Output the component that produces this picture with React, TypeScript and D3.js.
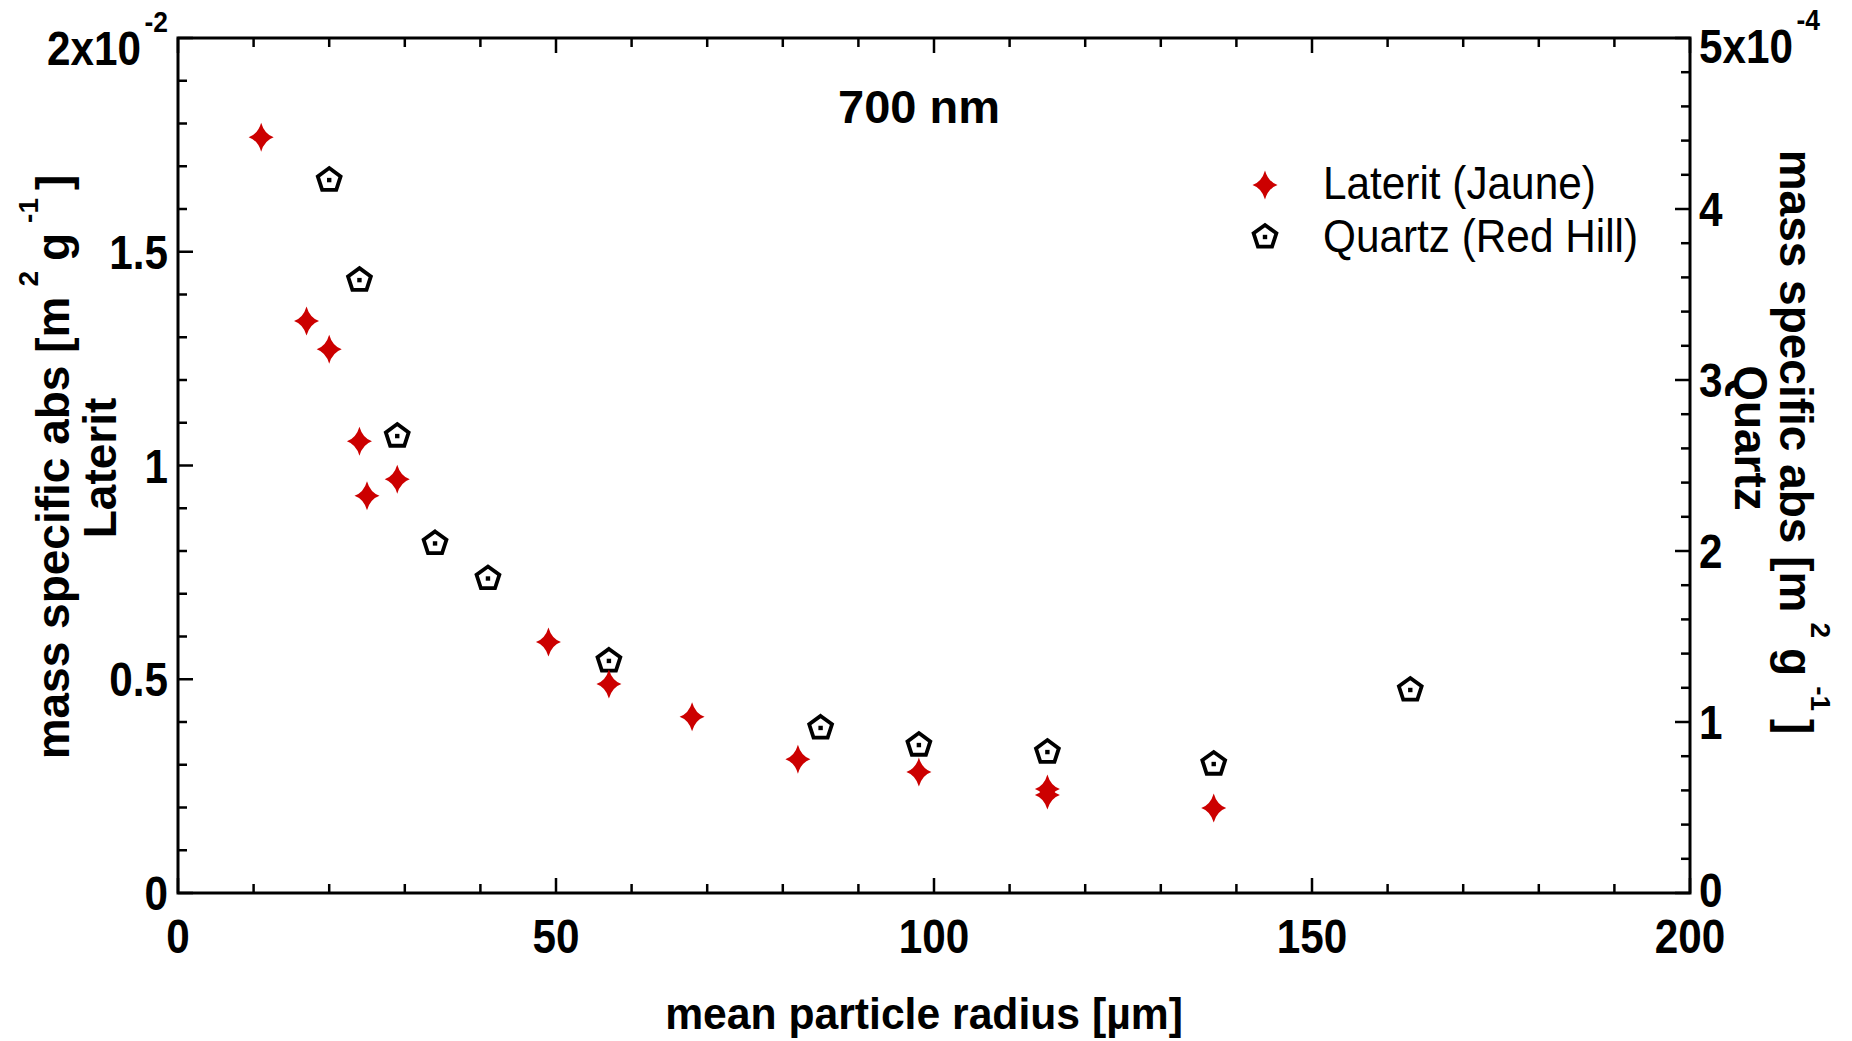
import React from "react";
import * as d3 from "d3";

// Mass specific absorption at 700 nm vs mean particle radius
const lateritRadius = [11, 17, 20, 24, 25, 29, 49, 57, 68, 82, 98, 115, 115, 137];
// in units of 10^-2 m^2 g^-1 (left axis)
const lateritAbs = [1.768, 1.338, 1.272, 1.057, 0.929, 0.968, 0.587, 0.489, 0.412, 0.313, 0.283, 0.243, 0.229, 0.199];

const quartzRadius = [20, 24, 29, 34, 41, 57, 85, 98, 115, 137, 163];
// in units of 10^-4 m^2 g^-1 (right axis)
const quartzAbs = [4.175, 3.59, 2.678, 2.05, 1.845, 1.363, 0.971, 0.871, 0.83, 0.76, 1.193];

const xTickValues = [0, 50, 100, 150, 200];
const xTickLabels = ["0", "50", "100", "150", "200"];
const leftTickValues = [0, 0.5, 1, 1.5, 2];
const leftTickLabels = ["0", "0.5", "1", "1.5", "2x10"];
const leftExponent = "-2";
const rightTickValues = [0, 1, 2, 3, 4, 5];
const rightTickLabels = ["0", "1", "2", "3", "4", "5x10"];
const rightExponent = "-4";
const seriesNames = ["Laterit (Jaune)", "Quartz (Red Hill)"];
const chartTitle = "700 nm";

const FONT = "'Liberation Sans', Arial, Helvetica, sans-serif";
const RED = "#cc0000";

const W = 1852;
const H = 1041;
const M = { left: 178, right: 1690, top: 38, bottom: 893 };

const x = d3.scaleLinear().domain([0, 200]).range([M.left, M.right]);
const yL = d3.scaleLinear().domain([0, 2]).range([M.bottom, M.top]);
const yR = d3.scaleLinear().domain([0, 5]).range([M.bottom, M.top]);

const xMinor = d3.range(0, 201, 10).filter((v) => v % 50 !== 0);
const leftMinor = d3.range(1, 20).map((v) => v / 10).filter((v) => Math.round(v * 10) % 5 !== 0);
const rightMinor = d3.range(1, 25).map((v) => v / 5).filter((v) => Math.round(v * 5) % 5 !== 0);

function starPath(): string {
  const p = d3.path();
  const rx = 12.5;
  const ry = 14.5;
  const c = 3.2;
  p.moveTo(0, -ry);
  p.quadraticCurveTo(c, -c, rx, 0);
  p.quadraticCurveTo(c, c, 0, ry);
  p.quadraticCurveTo(-c, c, -rx, 0);
  p.quadraticCurveTo(-c, -c, 0, -ry);
  p.closePath();
  return p.toString();
}

function pentagonPath(r: number): string {
  const pts = d3.range(5).map((i) => {
    const a = ((-90 + 72 * i) * Math.PI) / 180;
    return [r * Math.cos(a), r * Math.sin(a)] as [number, number];
  });
  return (d3.line()(pts) || "") + "Z";
}

const STAR = starPath();
const PENT = pentagonPath(12);

function Star({ cx, cy }: { cx: number; cy: number }) {
  return <path d={STAR} transform={`translate(${cx},${cy})`} fill={RED} />;
}

function Pentagon({ cx, cy }: { cx: number; cy: number }) {
  return (
    <g transform={`translate(${cx},${cy + 1})`}>
      <path d={PENT} fill="none" stroke="#000" strokeWidth={3.8} strokeLinejoin="miter" />
      <rect x={-2.2} y={-2.2} width={4.4} height={4.4} fill="#000" />
    </g>
  );
}

const tickStyle = { stroke: "#000", strokeWidth: 2.5 };
const MAJ = 15;
const MIN = 9;
const TICK_FS = 48;
const SX = 0.88;

export default function App() {
  return (
    <svg
      width={W}
      height={H}
      viewBox={`0 0 ${W} ${H}`}
      style={{ position: "absolute", left: 0, top: 0, display: "block", background: "#fff" }}
      fontFamily={FONT}
    >
      <rect x={0} y={0} width={W} height={H} fill="#fff" />

      {/* bottom and top x ticks */}
      {xTickValues.map((v) => (
        <g key={`xM${v}`}>
          <line x1={x(v)} x2={x(v)} y1={M.bottom} y2={M.bottom - MAJ} {...tickStyle} />
          <line x1={x(v)} x2={x(v)} y1={M.top} y2={M.top + MAJ} {...tickStyle} />
        </g>
      ))}
      {xMinor.map((v) => (
        <g key={`xm${v}`}>
          <line x1={x(v)} x2={x(v)} y1={M.bottom} y2={M.bottom - MIN} {...tickStyle} />
          <line x1={x(v)} x2={x(v)} y1={M.top} y2={M.top + MIN} {...tickStyle} />
        </g>
      ))}

      {/* left ticks */}
      {leftTickValues.map((v) => (
        <line key={`lM${v}`} x1={M.left} x2={M.left + MAJ} y1={yL(v)} y2={yL(v)} {...tickStyle} />
      ))}
      {leftMinor.map((v) => (
        <line key={`lm${v}`} x1={M.left} x2={M.left + MIN} y1={yL(v)} y2={yL(v)} {...tickStyle} />
      ))}

      {/* right ticks */}
      {rightTickValues.map((v) => (
        <line key={`rM${v}`} x1={M.right} x2={M.right - MAJ} y1={yR(v)} y2={yR(v)} {...tickStyle} />
      ))}
      {rightMinor.map((v) => (
        <line key={`rm${v}`} x1={M.right} x2={M.right - MIN} y1={yR(v)} y2={yR(v)} {...tickStyle} />
      ))}

      {/* frame */}
      <rect
        x={M.left}
        y={M.top}
        width={M.right - M.left}
        height={M.bottom - M.top}
        fill="none"
        stroke="#000"
        strokeWidth={3}
      />

      {/* x tick labels */}
      {xTickValues.map((v, i) => (
        <g key={`xl${v}`} transform={`translate(${x(v)},${M.bottom + 60})`}>
          <text transform={`scale(${SX},1)`} textAnchor="middle" fontSize={TICK_FS} fontWeight={700}>
            {xTickLabels[i]}
          </text>
        </g>
      ))}

      {/* left tick labels */}
      {leftTickValues.map((v, i) => {
        const last = i === leftTickValues.length - 1;
        const ty = last ? 65 : yL(v) + 17;
        return (
          <g key={`ll${v}`} transform={`translate(${M.left - 10},${ty})`}>
            <text transform={`scale(${SX},1)`} textAnchor="end" fontSize={TICK_FS} fontWeight={700}>
              {leftTickLabels[i]}
              {last && (
                <tspan dx={4} dy={-33} fontSize={30}>
                  {leftExponent}
                </tspan>
              )}
            </text>
          </g>
        );
      })}

      {/* right tick labels */}
      {rightTickValues.map((v, i) => {
        const last = i === rightTickValues.length - 1;
        const ty = last ? 63 : i === 0 ? yR(v) + 14 : yR(v) + 17;
        return (
          <g key={`rl${v}`} transform={`translate(${M.right + 9},${ty})`}>
            <text transform={`scale(${SX},1)`} textAnchor="start" fontSize={TICK_FS} fontWeight={700}>
              {rightTickLabels[i]}
              {last && (
                <tspan dx={4} dy={-33} fontSize={30}>
                  {rightExponent}
                </tspan>
              )}
            </text>
          </g>
        );
      })}

      {/* axis titles */}
      <g transform={`translate(${(M.left + M.right) / 2 - 10},1029)`}>
        <text transform="scale(0.97,1)" textAnchor="middle" fontSize={44} fontWeight={700}>
          mean particle radius [µm]
        </text>
      </g>

      <text transform="translate(69,467) rotate(-90)" textAnchor="middle" fontSize={46} fontWeight={700}>
        mass specific abs [m
        <tspan dx={10} dy={-31} fontSize={28}>2</tspan>
        <tspan dx={10} dy={31}>g</tspan>
        <tspan dx={10} dy={-31} fontSize={28}>-1</tspan>
        <tspan dx={8} dy={31}>]</tspan>
      </text>
      <text transform="translate(116,468) rotate(-90)" textAnchor="middle" fontSize={46} fontWeight={700}>
        Laterit
      </text>

      <text transform="translate(1780,442) rotate(90)" textAnchor="middle" fontSize={46} fontWeight={700}>
        mass specific abs [m
        <tspan dx={10} dy={-31} fontSize={28}>2</tspan>
        <tspan dx={10} dy={31}>g</tspan>
        <tspan dx={10} dy={-31} fontSize={28}>-1</tspan>
        <tspan dx={8} dy={31}>]</tspan>
      </text>
      <text transform="translate(1735,438) rotate(90)" textAnchor="middle" fontSize={46} fontWeight={700}>
        Quartz
      </text>

      {/* chart title */}
      <text x={919} y={123} textAnchor="middle" fontSize={47} fontWeight={700}>
        {chartTitle}
      </text>

      {/* data */}
      {quartzRadius.map((r, i) => (
        <Pentagon key={`q${i}`} cx={x(r)} cy={yR(quartzAbs[i])} />
      ))}
      {lateritRadius.map((r, i) => (
        <Star key={`l${i}`} cx={x(r)} cy={yL(lateritAbs[i])} />
      ))}

      {/* legend */}
      <Star cx={1265} cy={185} />
      <Pentagon cx={1265} cy={236} />
      <g transform="translate(1323,199)">
        <text transform="scale(0.92,1)" fontSize={46}>
          {seriesNames[0]}
        </text>
      </g>
      <g transform="translate(1323,252)">
        <text transform="scale(0.92,1)" fontSize={46}>
          {seriesNames[1]}
        </text>
      </g>
    </svg>
  );
}
